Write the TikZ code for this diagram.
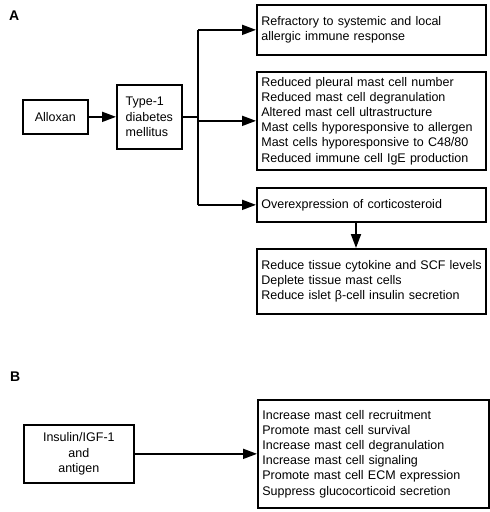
\documentclass[tikz,border=0pt]{standalone}
\usepackage{fontspec}
\setmainfont{Liberation Sans}
\usetikzlibrary{arrows.meta}
\newcommand{\oneline}[1]{\mbox{#1}}
\begin{document}
\begin{tikzpicture}[x=1pt,y=-1pt,
  every node/.style={font=\fontsize{12.5}{15.2}\selectfont},
  txtbox/.style={draw,line width=1.7pt,anchor=north west,inner xsep=4.5pt,inner ysep=0pt,align=left},
  cbox/.style={draw,line width=1.7pt,anchor=north west,inner sep=0pt,align=center},
  arr/.style={line width=1.8pt,-{Triangle[length=14pt,width=10pt]}},
  lnst/.style={line width=1.8pt},
  lbl/.style={anchor=base west,inner sep=0pt,font=\fontsize{14}{14}\selectfont\bfseries}]
\useasboundingbox (0,0) rectangle (490,512);
\node[lbl] (la) at (9,20) {A};
\node[lbl] (lb) at (10,381) {B};
% panel A
\node[cbox,minimum width=65pt,minimum height=34pt] (al) at (22,99) {Alloxan};
\node[cbox,minimum width=65pt,minimum height=64pt,align=left] (t1) at (116,84) {Type-1\\diabetes\\mellitus};
\node[txtbox,minimum width=229pt,minimum height=50pt,text width=220pt] (b1) at (256,4)
  {\oneline{Refractory to systemic and local}\\\oneline{allergic immune response}};
\node[txtbox,minimum width=229pt,minimum height=98pt,text width=220pt] (b2) at (256,71)
  {\oneline{Reduced pleural mast cell number}\\\oneline{Reduced mast cell degranulation}\\\oneline{Altered mast cell ultrastructure}\\\oneline{Mast cells hyporesponsive to allergen}\\\oneline{Mast cells hyporesponsive to C48/80}\\\oneline{Reduced immune cell IgE production}};
\node[txtbox,minimum width=229pt,minimum height=34pt,text width=220pt] (b3) at (256,187)
  {\oneline{Overexpression of corticosteroid}};
\node[txtbox,minimum width=229pt,minimum height=65pt,text width=220pt] (b4) at (256,248)
  {\oneline{Reduce tissue cytokine and SCF levels}\\\oneline{Deplete tissue mast cells}\\\oneline{Reduce islet β-cell insulin secretion}};
\coordinate (jn) at (198,118);
\draw[arr] (al.east) -- (t1.west);
\draw[lnst] (t1.east) -- (t1.east -| jn);
\draw[lnst] (jn |- b1.west) -- (jn |- b3.west);
\draw[arr] (jn |- b1.west) -- (b1.west);
\draw[arr] (jn |- b2.west) -- (b2.west);
\draw[arr] (jn |- b3.west) -- (b3.west);
\coordinate (vd) at (356,0);
\draw[arr] (vd |- b3.south) -- (vd |- b4.north);
% panel B
\node[cbox,minimum width=110pt,minimum height=58pt] (ins) at (23,424) {Insulin/IGF-1\\and\\antigen};
\node[txtbox,minimum width=231pt,minimum height=108pt,text width=222pt] (bb) at (257,399)
  {\oneline{Increase mast cell recruitment}\\\oneline{Promote mast cell survival}\\\oneline{Increase mast cell degranulation}\\\oneline{Increase mast cell signaling}\\\oneline{Promote mast cell ECM expression}\\\oneline{Suppress glucocorticoid secretion}};
\draw[arr] (ins.east) -- (bb.west);
\end{tikzpicture}
\end{document}
